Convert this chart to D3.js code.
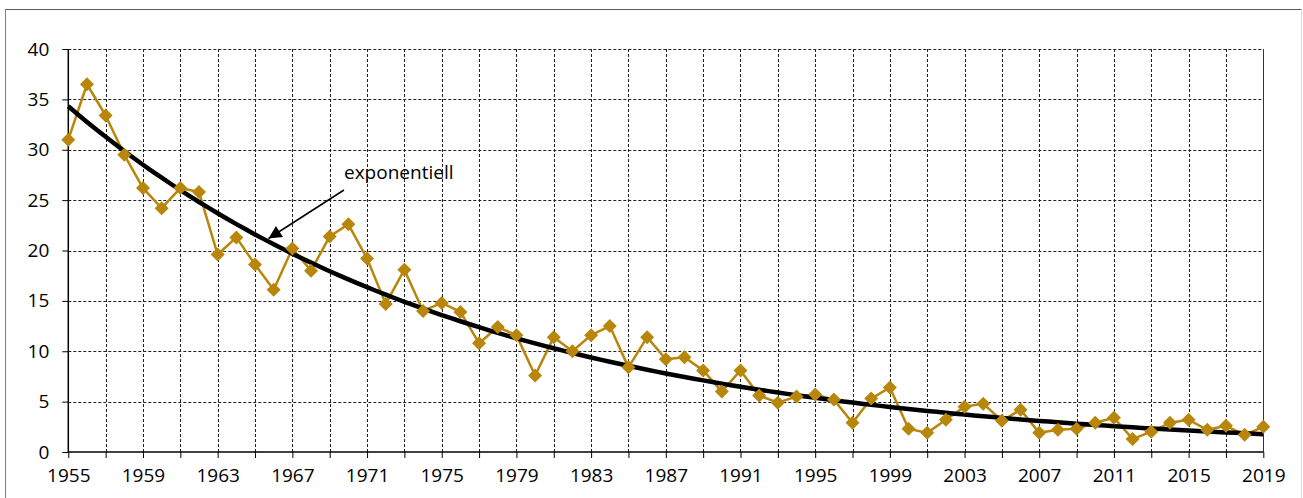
<!DOCTYPE html>
<html>
<head>
<meta charset="utf-8">
<script src="https://cdn.jsdelivr.net/npm/d3@7"></script>
<style>
  html, body { margin: 0; padding: 0; background: #fff; }
  svg { display: block; }
</style>
</head>
<body>
<svg id="chart" width="1303" height="498"></svg>
<script>
// ---- data ----
const years = d3.range(1955, 2020);
const values = [
  31.0, 36.5, 33.4, 29.5, 26.2, 24.2, 26.2, 25.8, 19.6, 21.3,
  18.6, 16.1, 20.2, 18.0, 21.4, 22.6, 19.2, 14.7, 18.1, 14.0,
  14.8, 13.9, 10.8, 12.4, 11.6, 7.6, 11.4, 10.0, 11.6, 12.5,
  8.4, 11.4, 9.2, 9.4, 8.1, 6.0, 8.1, 5.6, 4.9, 5.5,
  5.7, 5.2, 2.9, 5.3, 6.4, 2.3, 1.9, 3.2, 4.5, 4.8,
  3.1, 4.2, 1.9, 2.2, 2.3, 2.9, 3.4, 1.3, 2.0, 2.9,
  3.2, 2.2, 2.6, 1.7, 2.5
];
const yTicks = [0, 5, 10, 15, 20, 25, 30, 35, 40];
const xLabelYears = d3.range(1955, 2020, 4);
const xTickYears = d3.range(1955, 2020, 2);
const annotationText = "exponentiell";

// ---- layout ----
const svg = d3.select("#chart");
const x = d3.scaleLinear().domain([1955, 2019]).range([68.3, 1263.3]);
const y = d3.scaleLinear().domain([0, 40]).range([452, 49]);
const font = "'Open Sans', 'Noto Sans', sans-serif";

// outer frame
svg.append("line").attr("x1", 5.5).attr("x2", 1301.5).attr("y1", 9.5).attr("y2", 9.5)
  .attr("stroke", "#595959").attr("stroke-width", 1);
svg.append("line").attr("x1", 5.5).attr("x2", 5.5).attr("y1", 9.5).attr("y2", 498)
  .attr("stroke", "#7f7f7f").attr("stroke-width", 1);
svg.append("line").attr("x1", 1301.5).attr("x2", 1301.5).attr("y1", 9.5).attr("y2", 498)
  .attr("stroke", "#d9d9d9").attr("stroke-width", 1);

// gridlines
const grid = svg.append("g");
grid.selectAll("line.h").data(yTicks.filter(d => d > 0)).join("line")
  .attr("x1", x(1955)).attr("x2", x(2019))
  .attr("y1", d => Math.round(y(d)) + 0.5).attr("y2", d => Math.round(y(d)) + 0.5)
  .attr("stroke", "#222").attr("stroke-width", 1).attr("stroke-dasharray", "3,2");
grid.selectAll("line.v").data(xTickYears.filter(d => d > 1955 && d < 2019)).join("line")
  .attr("x1", d => Math.round(x(d)) + 0.5).attr("x2", d => Math.round(x(d)) + 0.5)
  .attr("y1", y(40)).attr("y2", y(0))
  .attr("stroke", "#222").attr("stroke-width", 1).attr("stroke-dasharray", "3,2");
// right edge
grid.append("line")
  .attr("x1", Math.round(x(2019)) + 0.5).attr("x2", Math.round(x(2019)) + 0.5)
  .attr("y1", y(40)).attr("y2", y(0))
  .attr("stroke", "#333").attr("stroke-width", 1);

// y axis
const yAxis = d3.axisLeft(y).tickValues(yTicks).tickSize(6).tickPadding(13).tickFormat(d3.format("d"));
const gy = svg.append("g").attr("transform", `translate(${x(1955)},0)`).call(yAxis);
gy.select(".domain").attr("stroke", "#000").attr("stroke-width", 1.5).attr("d", `M0,${y(40)}V${y(0)}`);
gy.selectAll(".tick line").attr("stroke", "#000").attr("stroke-width", 1);
gy.selectAll(".tick text").attr("font-family", font).attr("font-size", 19).attr("fill", "#000");

// x axis
const xAxis = d3.axisBottom(x).tickValues(xTickYears).tickSize(6).tickPadding(11)
  .tickFormat(d => xLabelYears.includes(d) ? String(d) : "");
const gx = svg.append("g").attr("transform", `translate(0,${y(0)})`).call(xAxis);
gx.select(".domain").attr("stroke", "#000").attr("stroke-width", 1.5).attr("d", `M${x(1955)},0H${x(2019)}`);
gx.selectAll(".tick line").attr("stroke", "#000").attr("stroke-width", 1);
gx.selectAll(".tick text").attr("font-family", font).attr("font-size", 19).attr("fill", "#000");

// exponential trend (least squares on ln(value), as Excel does)
const tx = years.map(d => d - 1955);
const ly = values.map(v => Math.log(v));
const mx = d3.mean(tx), my = d3.mean(ly);
const b = d3.sum(tx.map((t, i) => (t - mx) * (ly[i] - my))) / d3.sum(tx.map(t => (t - mx) ** 2));
const a = Math.exp(my - b * mx);
const trendYears = d3.range(1955, 2019.01, 0.5);
const trendLine = d3.line().x(d => x(d)).y(d => y(a * Math.exp(b * (d - 1955))));

// series
const gold = "#B8860B";
const line = d3.line().x((d, i) => x(years[i])).y(d => y(d));
svg.append("path").datum(values).attr("d", line)
  .attr("fill", "none").attr("stroke", gold).attr("stroke-width", 2.5).attr("stroke-linejoin", "round");

svg.append("path").datum(trendYears).attr("d", trendLine)
  .attr("fill", "none").attr("stroke", "#000").attr("stroke-width", 4.5);

svg.selectAll("path.m").data(values).join("path")
  .attr("transform", (d, i) => `translate(${x(years[i])},${y(d)})`)
  .attr("d", "M0,-7L7,0L0,7L-7,0Z")
  .attr("fill", gold);

// annotation
const defs = svg.append("defs");
defs.append("marker").attr("id", "arrow").attr("viewBox", "0 0 10 10")
  .attr("refX", 10).attr("refY", 5).attr("markerWidth", 18).attr("markerHeight", 13)
  .attr("markerUnits", "userSpaceOnUse").attr("orient", "auto")
  .append("path").attr("d", "M0,0L10,5L0,10Z").attr("fill", "#000");
svg.append("line").attr("x1", 344).attr("y1", 190).attr("x2", 268.5).attr("y2", 238.5)
  .attr("stroke", "#000").attr("stroke-width", 1.5).attr("marker-end", "url(#arrow)");
svg.append("text").attr("x", 344).attr("y", 179).text(annotationText)
  .attr("font-family", font).attr("font-size", 19).attr("fill", "#000");
</script>
</body>
</html>
